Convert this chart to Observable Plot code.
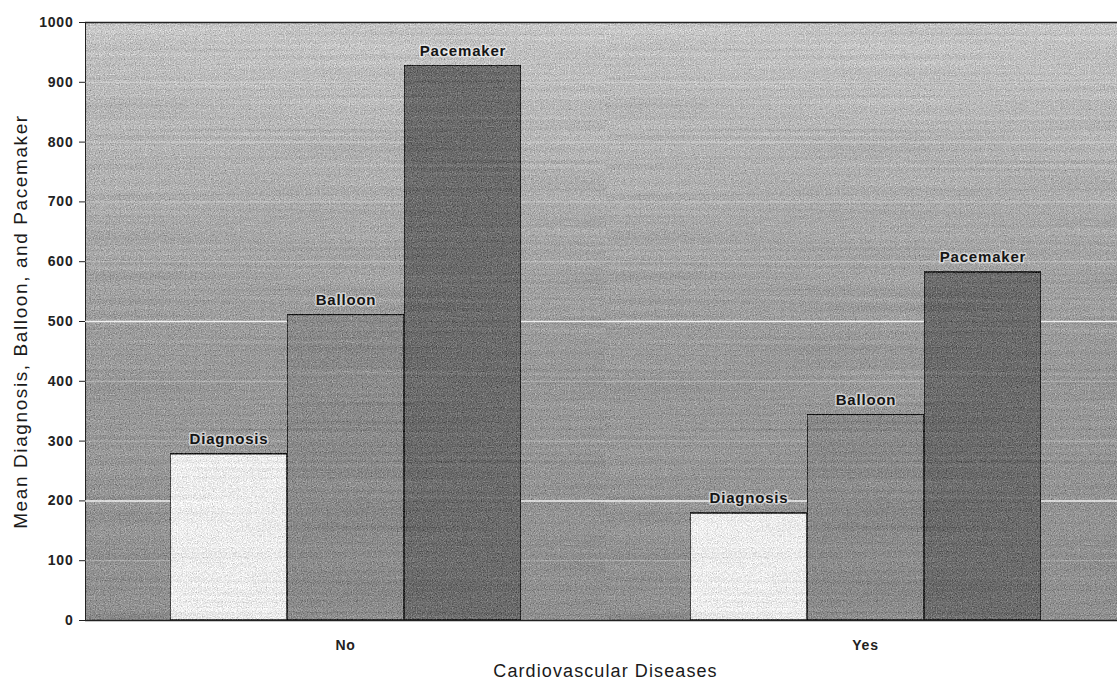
<!DOCTYPE html>
<html>
<head>
<meta charset="utf-8">
<script src="https://cdn.jsdelivr.net/npm/d3@7"></script>
<script src="https://cdn.jsdelivr.net/npm/@observablehq/plot@0.6"></script>
<style>
  html, body { margin: 0; padding: 0; background: #ffffff; overflow: hidden; }
  #chart { width: 1117px; height: 681px; overflow: hidden; }
  #chart svg { overflow: hidden; }
</style>
</head>
<body>
<div id="chart"></div>
<script>
const categories = ["No", "Yes"];
const series = ["Diagnosis", "Balloon", "Pacemaker"];
const noValues = [278, 511, 928];
const yesValues = [179, 344, 582];
const yTicks = [0, 100, 200, 300, 400, 500, 600, 700, 800, 900, 1000];
const gridStrong = [200, 500];
const gridFaint = [100, 300, 400, 600, 700, 800, 900];
const barColors = ["#ececec", "#8b8b8b", "#6c6c6c"];
const xTitle = "Cardiovascular Diseases";
const yTitle = "Mean Diagnosis, Balloon, and Pacemaker";

const rows = categories.flatMap((c, i) =>
  series.map((s, j) => ({category: c, series: s, value: (i === 0 ? noValues : yesValues)[j]}))
);

const chart = Plot.plot({
  width: 1117,
  height: 681,
  marginLeft: 85,
  marginRight: -8,
  marginTop: 22,
  marginBottom: 61,
  style: {fontFamily: "'Liberation Sans', Arial, sans-serif", fontSize: "14px", fontWeight: "bold", color: "#222", background: "white", letterSpacing: "0.8px"},
  facet: {data: rows, x: "category"},
  fx: {domain: categories, padding: 0, axis: "bottom", label: xTitle, labelAnchor: "center", tickSize: 0, tickPadding: 20, labelOffset: 56},
  x: {domain: series, paddingInner: 0, paddingOuter: 0.72, axis: null},
  y: {domain: [0, 1000], ticks: yTicks, tickFormat: "d", tickSize: 6, tickPadding: 6, label: yTitle, labelAnchor: "center", labelOffset: 72, line: true},
  color: {domain: series, range: barColors},
  marks: [
    Plot.frame({fill: "url(#bgGrad)", stroke: "none"}),
    Plot.ruleY(gridFaint, {stroke: "white", strokeOpacity: 0.3}),
    Plot.ruleY(gridStrong, {stroke: "white", strokeOpacity: 0.85, strokeWidth: 1.5}),
    Plot.ruleY([0, 1000], {stroke: "#222", strokeWidth: 1.5}),
    Plot.barY(rows, {x: "series", y: "value", fill: "series", stroke: "#111", strokeWidth: 1.5}),
    Plot.text(rows, {x: "series", y: "value", text: "series", lineAnchor: "bottom", dy: -10, fontWeight: "bold", fontSize: 15,
      fill: "#151515", stroke: "white", strokeOpacity: 0.55, strokeWidth: 3, paintOrder: "stroke"})
  ]
});

const svg = chart.tagName.toLowerCase() === "svg" ? chart : chart.querySelector("svg");
d3.select(svg).insert("defs", ":first-child").html(`
  <linearGradient id="bgGrad" x1="0" y1="0" x2="0" y2="1">
    <stop offset="0" stop-color="#c6c6c6"/>
    <stop offset="0.3" stop-color="#acacac"/>
    <stop offset="0.55" stop-color="#9a9a9a"/>
    <stop offset="1" stop-color="#909090"/>
  </linearGradient>
  <filter id="grain" x="0" y="0" width="100%" height="100%" color-interpolation-filters="sRGB">
    <feTurbulence type="fractalNoise" baseFrequency="0.8" numOctaves="2" seed="7" result="n"/>
    <feColorMatrix in="n" type="matrix" result="g"
      values="0.33 0.33 0.33 0 0  0.33 0.33 0.33 0 0  0.33 0.33 0.33 0 0  0 0 0 0 1"/>
    <feTurbulence type="fractalNoise" baseFrequency="0.004 0.25" numOctaves="1" seed="3" result="s"/>
    <feColorMatrix in="s" type="matrix" result="sg"
      values="0.33 0.33 0.33 0 0  0.33 0.33 0.33 0 0  0.33 0.33 0.33 0 0  0 0 0 0 1"/>
    <feComposite in="SourceGraphic" in2="g" operator="arithmetic" k1="0" k2="1" k3="0.8" k4="-0.4" result="a"/>
    <feComposite in="a" in2="sg" operator="arithmetic" k1="0" k2="1" k3="0.18" k4="-0.09" result="b"/>
    <feComposite in="b" in2="SourceGraphic" operator="in"/>
  </filter>
`);
svg.querySelectorAll('[aria-label="frame"]').forEach(el => {
  (el.tagName.toLowerCase() === "rect" ? [el] : el.querySelectorAll("rect")).forEach(r => {
    r.setAttribute("filter", "url(#grain)");
    r.setAttribute("shape-rendering", "crispEdges");
  });
});
svg.querySelectorAll('g[aria-label="bar"] rect').forEach(r => {
  r.setAttribute("filter", "url(#grain)");
});
svg.querySelectorAll("text").forEach(t => {
  const s = t.textContent.trim();
  if (s.includes(xTitle) || s.includes(yTitle)) {
    const isX = s.includes(xTitle);
    t.textContent = isX ? xTitle : yTitle;
    t.setAttribute("font-weight", "normal");
    t.style.fontWeight = "normal";
    t.style.fontSize = isX ? "18px" : "19px";
    t.style.letterSpacing = isX ? "1.1px" : "1.6px";
    t.style.fill = "#1a1a1a";
  }
});
document.getElementById("chart").appendChild(chart);
</script>
</body>
</html>
